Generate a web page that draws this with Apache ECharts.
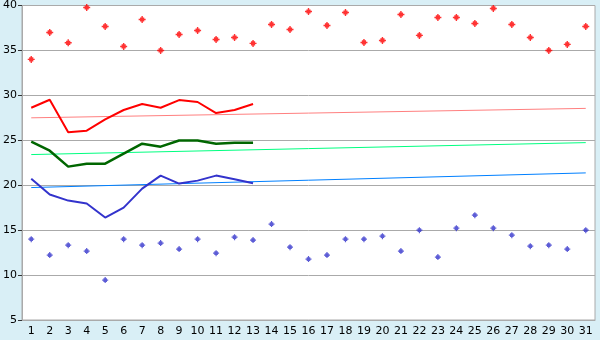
<!DOCTYPE html>
<html><head><meta charset="utf-8">
<script src="https://cdn.jsdelivr.net/npm/echarts@6/dist/echarts.min.js"></script>
<style>html,body{margin:0;padding:0;background:#d9eff6;}#c{width:600px;height:340px;}</style>
</head><body><div id="c"></div>
<script>
var days = ['1','2','3','4','5','6','7','8','9','10','11','12','13','14','15','16','17','18','19','20','21','22','23','24','25','26','27','28','29','30','31'];
var maxPoints = [34.0,37.0,35.85,39.78,37.67,35.44,38.44,35.0,36.78,37.22,36.22,36.44,35.78,37.89,37.33,39.33,37.78,39.22,35.89,36.11,39.0,36.67,38.67,38.67,38.0,39.67,37.89,36.44,35.0,35.67,37.67];
var minPoints = [14.0,12.22,13.33,12.67,9.44,14.0,13.33,13.56,12.89,14.0,12.44,14.22,13.89,15.67,13.11,11.78,12.22,14.0,14.0,14.33,12.67,15.0,12.0,15.22,16.67,15.22,14.44,13.22,13.33,12.89,15.0];
var maxLine = [28.62,29.51,25.89,26.07,27.33,28.37,29.03,28.62,29.47,29.26,28.03,28.37,29.03];
var meanLine = [24.84,23.84,22.07,22.4,22.4,23.51,24.62,24.29,24.97,24.97,24.62,24.73,24.73];
var minLine = [20.73,18.96,18.29,17.96,16.4,17.51,19.62,21.07,20.18,20.51,21.07,20.67,20.22];
var maxTrend = [27.5, 28.55];   // start (day 1), end (day 31)
var meanTrend = [23.41, 24.74];
var minTrend = [19.74, 21.37];
var yTicks = [5, 40, 5]; // min, max, interval

function trend(t){ var a = days.map(function(){return null;}); a[0]=t[0]; a[a.length-1]=t[1]; return a; }
var mark = 'path://M2,0H3V1H4V2H5V3H4V4H3V5H2V4H1V3H0V2H1V1H2Z';
var chart = echarts.init(document.getElementById('c'));
var lbl = {color:'#000', fontFamily:'DejaVu Sans', fontSize:11};
chart.setOption({
  animation:false,
  backgroundColor:'#d9eff6',
  grid:{left:20,right:5,top:5,bottom:20,show:true,backgroundColor:'#fff',borderColor:'#aaa',borderWidth:1},
  xAxis:{type:'category',data:days,boundaryGap:true,
    axisLine:{lineStyle:{color:'#aaa'}},
    axisTick:{alignWithLabel:true,length:5,lineStyle:{color:'#333'}},
    axisLabel:Object.assign({margin:6,interval:0},lbl)},
  yAxis:{type:'value',min:yTicks[0],max:yTicks[1],interval:yTicks[2],
    axisLine:{show:true,lineStyle:{color:'#aaa'}},
    axisTick:{show:true,length:4,lineStyle:{color:'#333'}},
    splitLine:{lineStyle:{color:'#aaa'}},
    axisLabel:Object.assign({margin:5},lbl)},
  series:[
    {type:'line',data:trend(maxTrend),connectNulls:true,symbol:'none',lineStyle:{color:'#ff8080',width:1},z:1},
    {type:'line',data:trend(meanTrend),connectNulls:true,symbol:'none',lineStyle:{color:'#00ff80',width:1},z:1},
    {type:'line',data:trend(minTrend),connectNulls:true,symbol:'none',lineStyle:{color:'#0080ff',width:1},z:1},
    {type:'line',data:maxLine,symbol:'none',lineStyle:{color:'#ff0000',width:2},z:2},
    {type:'line',data:meanLine,symbol:'none',lineStyle:{color:'#006600',width:2.5},z:2},
    {type:'line',data:minLine,symbol:'none',lineStyle:{color:'#3333cc',width:2},z:2},
    {type:'scatter',data:maxPoints,symbol:mark,symbolSize:7,itemStyle:{color:'#ff0000'},z:3},
    {type:'scatter',data:minPoints,symbol:mark,symbolSize:6,itemStyle:{color:'#3333cc'},z:3}
  ]
});
</script></body></html>
